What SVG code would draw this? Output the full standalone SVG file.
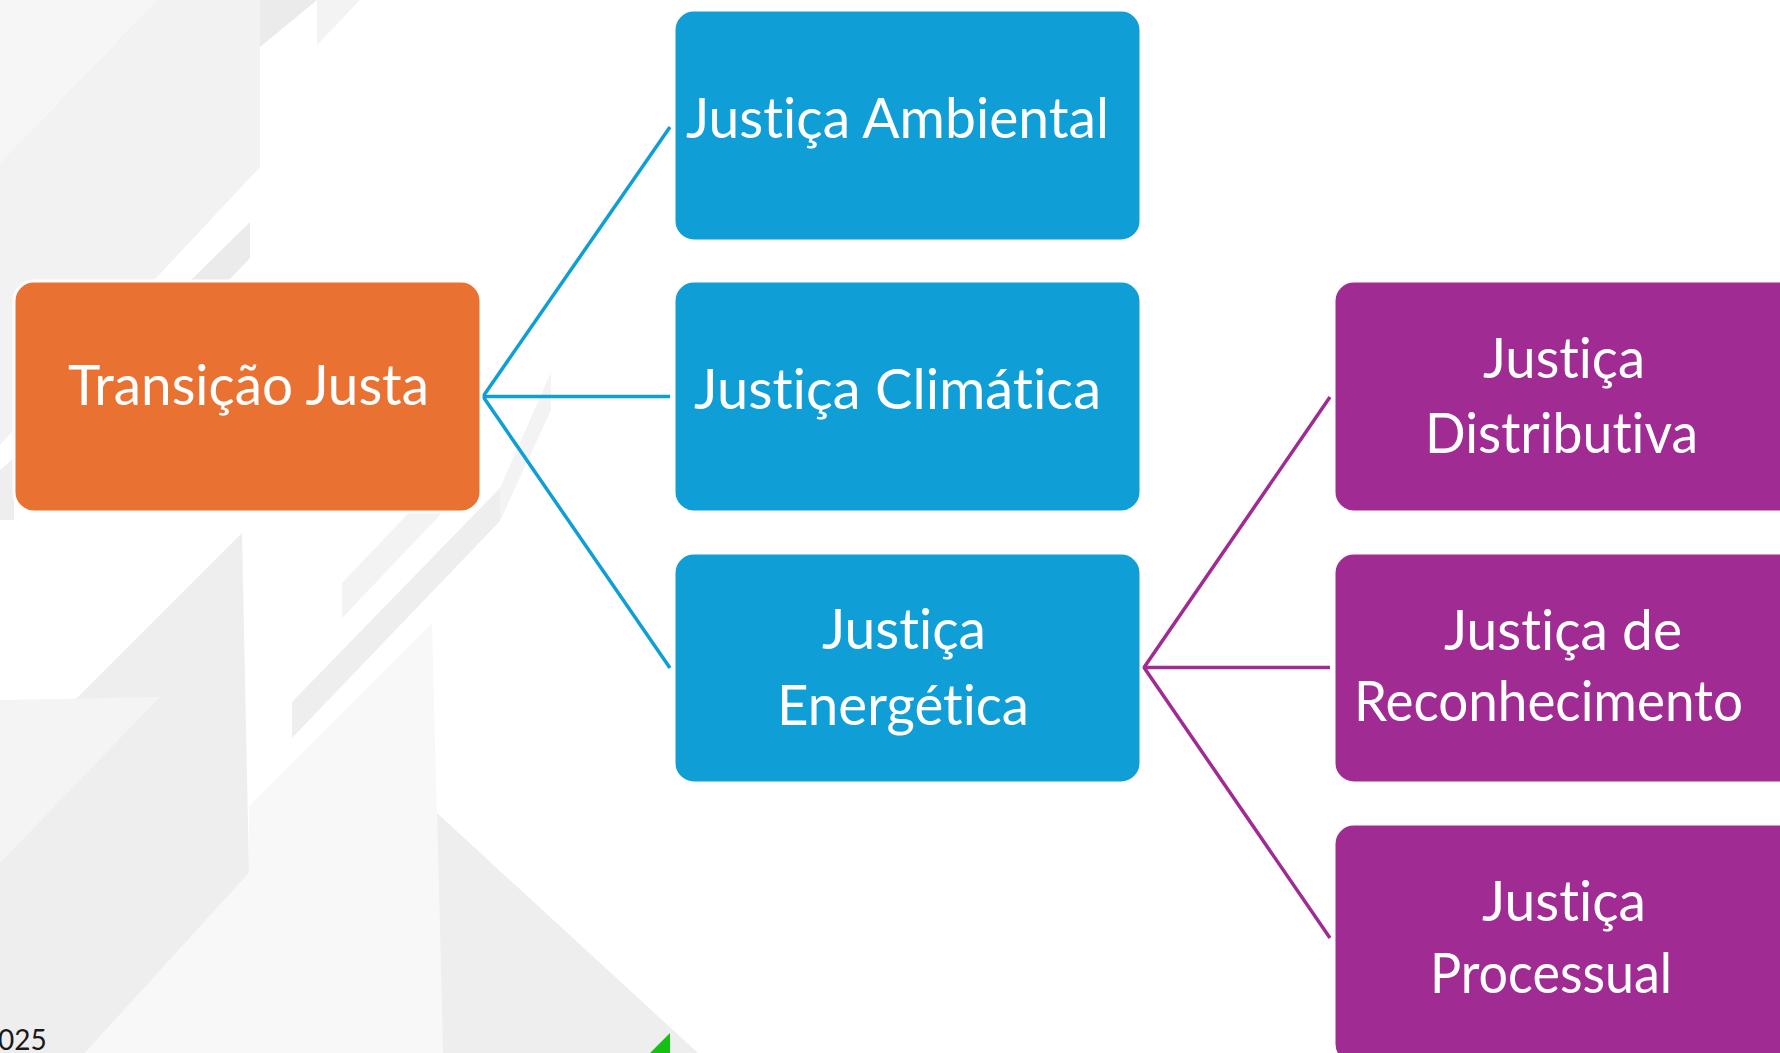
<svg xmlns="http://www.w3.org/2000/svg" width="1780" height="1053" viewBox="0 0 1780 1053">
  <style>
    .node-text { font-family: Lato, "Noto Sans", "Liberation Sans", sans-serif; font-size: 56px; fill: #ffffff; font-variant-ligatures: none; font-feature-settings: "liga" 0, "clig" 0; }
    .box { stroke: #ffffff; stroke-width: 3; }
    .orange { fill: #E97132; }
    .blue { fill: #0F9ED5; }
    .purple { fill: #A02B93; }
    .link-blue { stroke: #0F9ED5; stroke-width: 3.5; fill: none; }
    .link-purple { stroke: #A02B93; stroke-width: 3.5; fill: none; }
  </style>

  <!-- page background -->
  <rect x="0" y="0" width="1780" height="1053" fill="#ffffff"/>

  <!-- faint geometric backdrop, left side -->
  <g id="backdrop">
    <polygon points="0,0 157,0 0,163" fill="#F6F6F6"/>
    <polygon points="157,0 260,0 260,167 0,445 0,163" fill="#F2F2F2"/>
    <polygon points="260,0 317,0 260,47" fill="#EBEBEB"/>
    <polygon points="317,0 360,0 317,45" fill="#F3F3F3"/>
    <polygon points="250,222 250,258 228,281 190,281" fill="#EBEBEB"/>
    <polygon points="0,470 14,458 14,520 0,520" fill="#EEEEEE"/>
    <polygon points="242,533 249,873 85,1053 0,1053 0,775" fill="#EEEEEE"/>
    <polygon points="0,700 160,697 0,863" fill="#F4F4F4"/>
    <polygon points="432,623 443,1053 85,1053 249,873 249,806" fill="#F8F8F8"/>
    <polygon points="437,813 698,1053 443,1053" fill="#EEEEEE"/>
    <polygon points="292,702 292,738 500,521 500,488" fill="#EEEEEE"/>
    <polygon points="500,488 551,372 551,410 500,521" fill="#F3F3F3"/>
    <polygon points="342,583 342,618 480,473 480,438" fill="#F3F3F3"/>
    <polygon points="670,1033 670,1053 650,1053" fill="#14C014"/>
  </g>

  <!-- footer year, clipped by the page edge -->
  <text x="-2" y="1050" font-family="Lato, 'Noto Sans', sans-serif" font-size="28" fill="#1a1a1a">025</text>

  <!-- connectors -->
  <g id="connectors">
    <polyline class="link-blue" points="670,127 483,396.5 670,668"/>
    <line class="link-blue" x1="483" y1="396.5" x2="670" y2="396.5"/>
    <polyline class="link-purple" points="1330,397 1144,667.5 1330,938"/>
    <line class="link-purple" x1="1144" y1="667.5" x2="1330" y2="667.5"/>
  </g>

  <!-- nodes -->
  <g id="transicao-justa">
    <rect class="box orange" x="14" y="281" width="467" height="231" rx="20"/>
    <text class="node-text" x="68" y="405" textLength="361" lengthAdjust="spacingAndGlyphs">Transição Justa</text>
  </g>

  <g id="justica-ambiental">
    <rect class="box blue" x="674" y="10" width="467" height="231" rx="20"/>
    <text class="node-text" x="686" y="138" textLength="423" lengthAdjust="spacingAndGlyphs">Justiça Ambiental</text>
  </g>

  <g id="justica-climatica">
    <rect class="box blue" x="674" y="281" width="467" height="231" rx="20"/>
    <text class="node-text" x="694" y="409" textLength="407" lengthAdjust="spacingAndGlyphs">Justiça Climática</text>
  </g>

  <g id="justica-energetica">
    <rect class="box blue" x="674" y="553" width="467" height="230" rx="20"/>
    <text class="node-text" x="822" y="649" textLength="164" lengthAdjust="spacingAndGlyphs">Justiça</text>
    <text class="node-text" x="777" y="725" textLength="252" lengthAdjust="spacingAndGlyphs">Energética</text>
  </g>

  <g id="justica-distributiva">
    <rect class="box purple" x="1334" y="281" width="467" height="231" rx="20"/>
    <text class="node-text" x="1483" y="378" textLength="162" lengthAdjust="spacingAndGlyphs">Justiça</text>
    <text class="node-text" x="1425" y="453" textLength="273" lengthAdjust="spacingAndGlyphs">Distributiva</text>
  </g>

  <g id="justica-reconhecimento">
    <rect class="box purple" x="1334" y="553" width="467" height="230" rx="20"/>
    <text class="node-text" x="1444" y="650" textLength="238" lengthAdjust="spacingAndGlyphs">Justiça de</text>
    <text class="node-text" x="1354" y="721" textLength="389" lengthAdjust="spacingAndGlyphs">Reconhecimento</text>
  </g>

  <g id="justica-processual">
    <rect class="box purple" x="1334" y="824" width="467" height="240" rx="20"/>
    <text class="node-text" x="1482" y="921" textLength="164" lengthAdjust="spacingAndGlyphs">Justiça</text>
    <text class="node-text" x="1430" y="993" textLength="242" lengthAdjust="spacingAndGlyphs">Processual</text>
  </g>
</svg>
